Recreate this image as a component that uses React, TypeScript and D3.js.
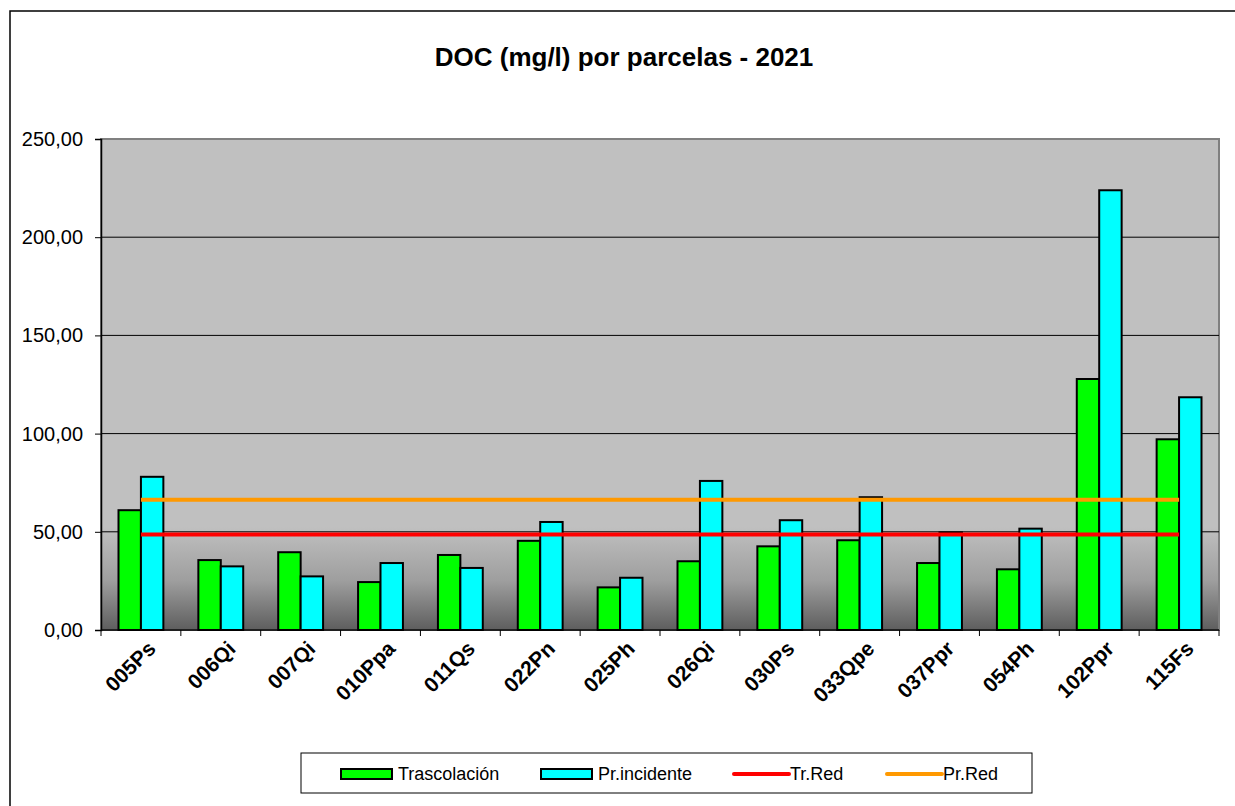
import { useEffect, useRef } from 'react';
import * as d3 from 'd3';

const categories = ['005Ps', '006Qi', '007Qi', '010Ppa', '011Qs', '022Pn', '025Ph', '026Qi', '030Ps', '033Qpe', '037Ppr', '054Ph', '102Ppr', '115Fs'];
const trascolacion = [61.0, 35.6, 39.6, 24.4, 38.2, 45.4, 21.7, 35.0, 42.6, 45.7, 34.1, 30.9, 127.8, 97.1];
const prIncidente = [78.0, 32.4, 27.3, 34.1, 31.6, 55.0, 26.6, 75.9, 55.9, 67.6, 49.7, 51.6, 223.9, 118.5];
const trRed = 48.6;
const prRed = 66.3;
const yTicks = [0, 50, 100, 150, 200, 250];

const W = 1235;
const H = 806;
const FONT = 'Arial, "Liberation Sans", sans-serif';

export default function App() {
  const svgRef = useRef<SVGSVGElement>(null);

  useEffect(() => {
    if (!svgRef.current) return;
    const svg = d3.select(svgRef.current);
    svg.selectAll('*').remove();

    const plot = { left: 101, right: 1219, top: 139, bottom: 630 };

    // outer chart frame (runs off the right and bottom edges)
    svg.append('rect')
      .attr('x', 10).attr('y', 11)
      .attr('width', W).attr('height', H)
      .attr('fill', '#fff')
      .attr('stroke', '#000')
      .attr('stroke-width', 1.5);

    svg.append('text')
      .attr('x', 624).attr('y', 66)
      .attr('text-anchor', 'middle')
      .attr('font-family', FONT)
      .attr('font-weight', 'bold')
      .attr('font-size', 26)
      .text('DOC (mg/l) por parcelas - 2021');

    const x = d3.scaleBand<string>()
      .domain(categories)
      .range([plot.left, plot.right])
      .padding(0);

    const x1 = d3.scaleBand<string>()
      .domain(['tr', 'pr'])
      .range([0, x.step()])
      .paddingInner(0)
      .paddingOuter(0.78);

    const y = d3.scaleLinear()
      .domain([0, 250])
      .range([plot.bottom, plot.top]);

    const defs = svg.append('defs');
    const grad = defs.append('linearGradient')
      .attr('id', 'plotbg')
      .attr('x1', 0).attr('y1', 0).attr('x2', 0).attr('y2', 1);
    grad.append('stop').attr('offset', '0%').attr('stop-color', '#c0c0c0');
    grad.append('stop').attr('offset', '79%').attr('stop-color', '#c0c0c0');
    grad.append('stop').attr('offset', '90%').attr('stop-color', '#9e9e9e');
    grad.append('stop').attr('offset', '100%').attr('stop-color', '#5e5e5e');

    svg.append('rect')
      .attr('x', plot.left).attr('y', plot.top)
      .attr('width', plot.right - plot.left)
      .attr('height', plot.bottom - plot.top)
      .attr('fill', 'url(#plotbg)')
      .attr('stroke', '#808080')
      .attr('stroke-width', 2);

    // gridlines
    svg.append('g')
      .selectAll('line')
      .data(yTicks.filter(t => t > 0 && t < 250))
      .join('line')
      .attr('x1', plot.left).attr('x2', plot.right)
      .attr('y1', d => y(d)).attr('y2', d => y(d))
      .attr('stroke', '#000')
      .attr('stroke-width', 1);

    // y axis
    const yAxis = svg.append('g')
      .attr('transform', `translate(${plot.left},0)`)
      .call(d3.axisLeft(y).tickValues(yTicks).tickSize(6).tickPadding(12)
        .tickFormat(d => d3.format('.2f')(d as number).replace('.', ',')));
    yAxis.select('.domain').attr('stroke', '#000').attr('stroke-width', 1.5);
    yAxis.selectAll('line').attr('stroke', '#000');
    yAxis.selectAll('text')
      .attr('font-family', FONT)
      .attr('font-size', 20)
      .attr('fill', '#000');

    // x axis
    const xAxis = svg.append('g')
      .attr('transform', `translate(0,${plot.bottom})`);
    xAxis.append('line')
      .attr('x1', plot.left).attr('x2', plot.right)
      .attr('stroke', '#000').attr('stroke-width', 1.5);
    xAxis.selectAll('line.tick')
      .data(d3.range(categories.length + 1))
      .join('line')
      .attr('class', 'tick')
      .attr('x1', i => plot.left + i * x.step())
      .attr('x2', i => plot.left + i * x.step())
      .attr('y1', 0).attr('y2', 6)
      .attr('stroke', '#000');
    xAxis.selectAll('text')
      .data(categories)
      .join('text')
      .attr('transform', d => `translate(${(x(d) ?? 0) + x.bandwidth() / 2 + 16},${20}) rotate(-45)`)
      .attr('text-anchor', 'end')
      .attr('font-family', FONT)
      .attr('font-weight', 'bold')
      .attr('font-size', 21)
      .text(d => d);

    // bars
    const groups = svg.append('g')
      .selectAll('g')
      .data(categories)
      .join('g')
      .attr('transform', d => `translate(${x(d)},0)`);

    groups.append('rect')
      .attr('x', x1('tr') ?? 0)
      .attr('width', x1.bandwidth())
      .attr('y', (_, i) => y(trascolacion[i]))
      .attr('height', (_, i) => plot.bottom - y(trascolacion[i]))
      .attr('fill', '#00ff00')
      .attr('stroke', '#000')
      .attr('stroke-width', 2);

    groups.append('rect')
      .attr('x', x1('pr') ?? 0)
      .attr('width', x1.bandwidth())
      .attr('y', (_, i) => y(prIncidente[i]))
      .attr('height', (_, i) => plot.bottom - y(prIncidente[i]))
      .attr('fill', '#00ffff')
      .attr('stroke', '#000')
      .attr('stroke-width', 2);

    // reference lines
    const line = d3.line<string>()
      .x(d => (x(d) ?? 0) + x.bandwidth() / 2);

    svg.append('path')
      .datum(categories)
      .attr('d', line.y(() => y(prRed)))
      .attr('fill', 'none')
      .attr('stroke', '#ff9900')
      .attr('stroke-width', 4);

    svg.append('path')
      .datum(categories)
      .attr('d', line.y(() => y(trRed)))
      .attr('fill', 'none')
      .attr('stroke', '#ff0000')
      .attr('stroke-width', 4);

    // legend
    const lg = svg.append('g');
    lg.append('rect')
      .attr('x', 301).attr('y', 753)
      .attr('width', 731).attr('height', 40)
      .attr('fill', '#fff')
      .attr('stroke', '#000')
      .attr('stroke-width', 1);

    const items = [
      { label: 'Trascolación', kind: 'bar', color: '#00ff00', x: 341 },
      { label: 'Pr.incidente', kind: 'bar', color: '#00ffff', x: 541 },
      { label: 'Tr.Red', kind: 'line', color: '#ff0000', x: 734 },
      { label: 'Pr.Red', kind: 'line', color: '#ff9900', x: 887 },
    ];
    const ly = 774;
    items.forEach(it => {
      if (it.kind === 'bar') {
        lg.append('rect')
          .attr('x', it.x).attr('y', ly - 5)
          .attr('width', 51).attr('height', 10)
          .attr('fill', it.color)
          .attr('stroke', '#000')
          .attr('stroke-width', 2);
      } else {
        lg.append('line')
          .attr('x1', it.x).attr('x2', it.x + 55)
          .attr('y1', ly).attr('y2', ly)
          .attr('stroke', it.color)
          .attr('stroke-width', 4)
          .attr('stroke-linecap', 'round');
      }
      lg.append('text')
        .attr('x', it.x + (it.kind === 'bar' ? 57 : 56))
        .attr('y', ly + 6)
        .attr('font-family', FONT)
        .attr('font-size', 18)
        .text(it.label);
    });
  }, []);

  return (
    <svg
      ref={svgRef}
      width={W}
      height={H}
      style={{ position: 'absolute', left: 0, top: 0, display: 'block', background: '#fff' }}
    />
  );
}
